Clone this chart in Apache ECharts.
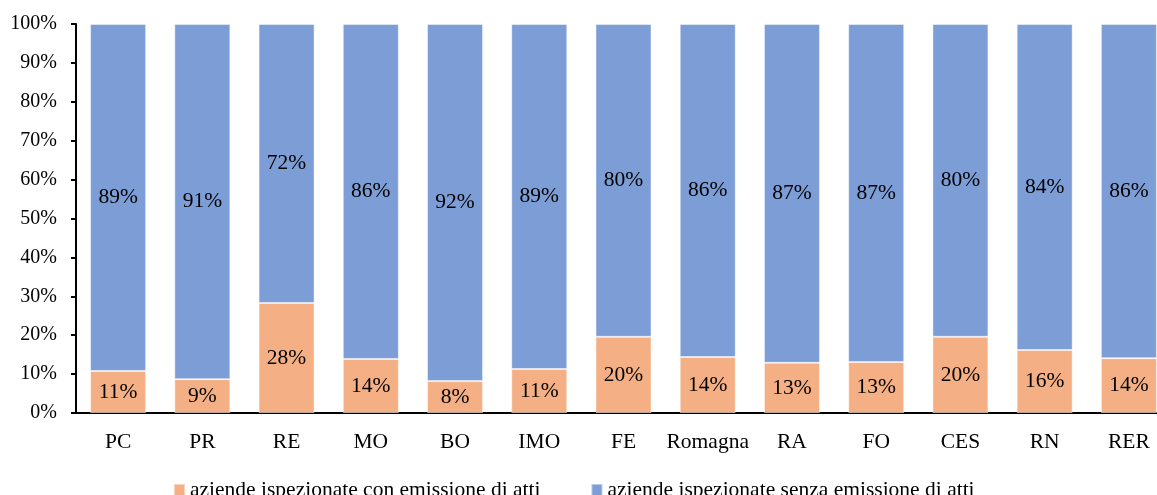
<!DOCTYPE html>
<html>
<head>
<meta charset="utf-8">
<script src="https://cdn.jsdelivr.net/npm/echarts@6/dist/echarts.min.js"></script>
<style>
  html, body { margin: 0; padding: 0; background: #fff; overflow: hidden; }
  #main { width: 1175px; height: 495px; }
</style>
</head>
<body>
<div id="main"></div>
<script>
  // province / area
  var categories = ['PC', 'PR', 'RE', 'MO', 'BO', 'IMO', 'FE', 'Romagna', 'RA', 'FO', 'CES', 'RN', 'RER'];
  // % aziende con emissione di atti
  var conAtti = [10.8, 8.7, 28.3, 13.9, 8.2, 11.3, 19.6, 14.4, 12.9, 13.1, 19.6, 16.2, 14.1];
  // % aziende senza emissione di atti
  var senzaAtti = [89.2, 91.3, 71.7, 86.1, 91.8, 88.7, 80.4, 85.6, 87.1, 86.9, 80.4, 83.8, 85.9];
  var yTicks = [0, 10, 20, 30, 40, 50, 60, 70, 80, 90, 100];

  var font = 'Liberation Serif';
  var myChart = echarts.init(document.getElementById('main'));

  var labelFmt = function (p) { return Math.round(p.value) + '%'; };

  var option = {
    animation: false,
    textStyle: { fontFamily: font },
    grid: {
      left: 76,
      top: 24,
      width: 1095,
      height: 389
    },
    legend: {
      top: 474,
      left: 168,
      itemWidth: 11,
      itemHeight: 12,
      itemGap: 50,
      icon: 'rect',
      textStyle: { fontFamily: font, fontSize: 21.5, color: '#000' },
      data: ['aziende ispezionate con emissione di atti', 'aziende ispezionate senza emissione di atti']
    },
    xAxis: {
      type: 'category',
      data: categories,
      axisLine: { lineStyle: { color: '#000', width: 2 } },
      axisTick: { show: false },
      axisLabel: { color: '#000', fontSize: 21.5, fontFamily: font, margin: 18, interval: 0 }
    },
    yAxis: {
      type: 'value',
      min: yTicks[0],
      max: yTicks[yTicks.length - 1],
      interval: 10,
      axisLine: { show: true, lineStyle: { color: '#000', width: 2 } },
      axisTick: { show: true, length: 5, lineStyle: { color: '#000', width: 2 } },
      splitLine: { show: false },
      axisLabel: {
        color: '#000', fontSize: 20, fontFamily: font, margin: 19,
        formatter: '{value}%'
      }
    },
    series: [
      {
        name: 'aziende ispezionate con emissione di atti',
        type: 'bar',
        stack: 'tot',
        barWidth: '66.5%',
        data: conAtti,
        itemStyle: { color: '#F4B084', borderColor: 'rgba(255,255,255,0.45)', borderWidth: 1 },
        label: {
          show: true,
          position: 'inside',
          color: '#000',
          fontSize: 21.5,
          fontFamily: font,
          formatter: labelFmt
        }
      },
      {
        name: 'aziende ispezionate senza emissione di atti',
        type: 'bar',
        stack: 'tot',
        barWidth: '66.5%',
        data: senzaAtti,
        itemStyle: { color: '#7C9DD5', borderColor: 'rgba(255,255,255,0.45)', borderWidth: 1 },
        label: {
          show: true,
          position: 'inside',
          color: '#000',
          fontSize: 21.5,
          fontFamily: font,
          formatter: labelFmt
        }
      }
    ]
  };

  myChart.setOption(option);
</script>
</body>
</html>
